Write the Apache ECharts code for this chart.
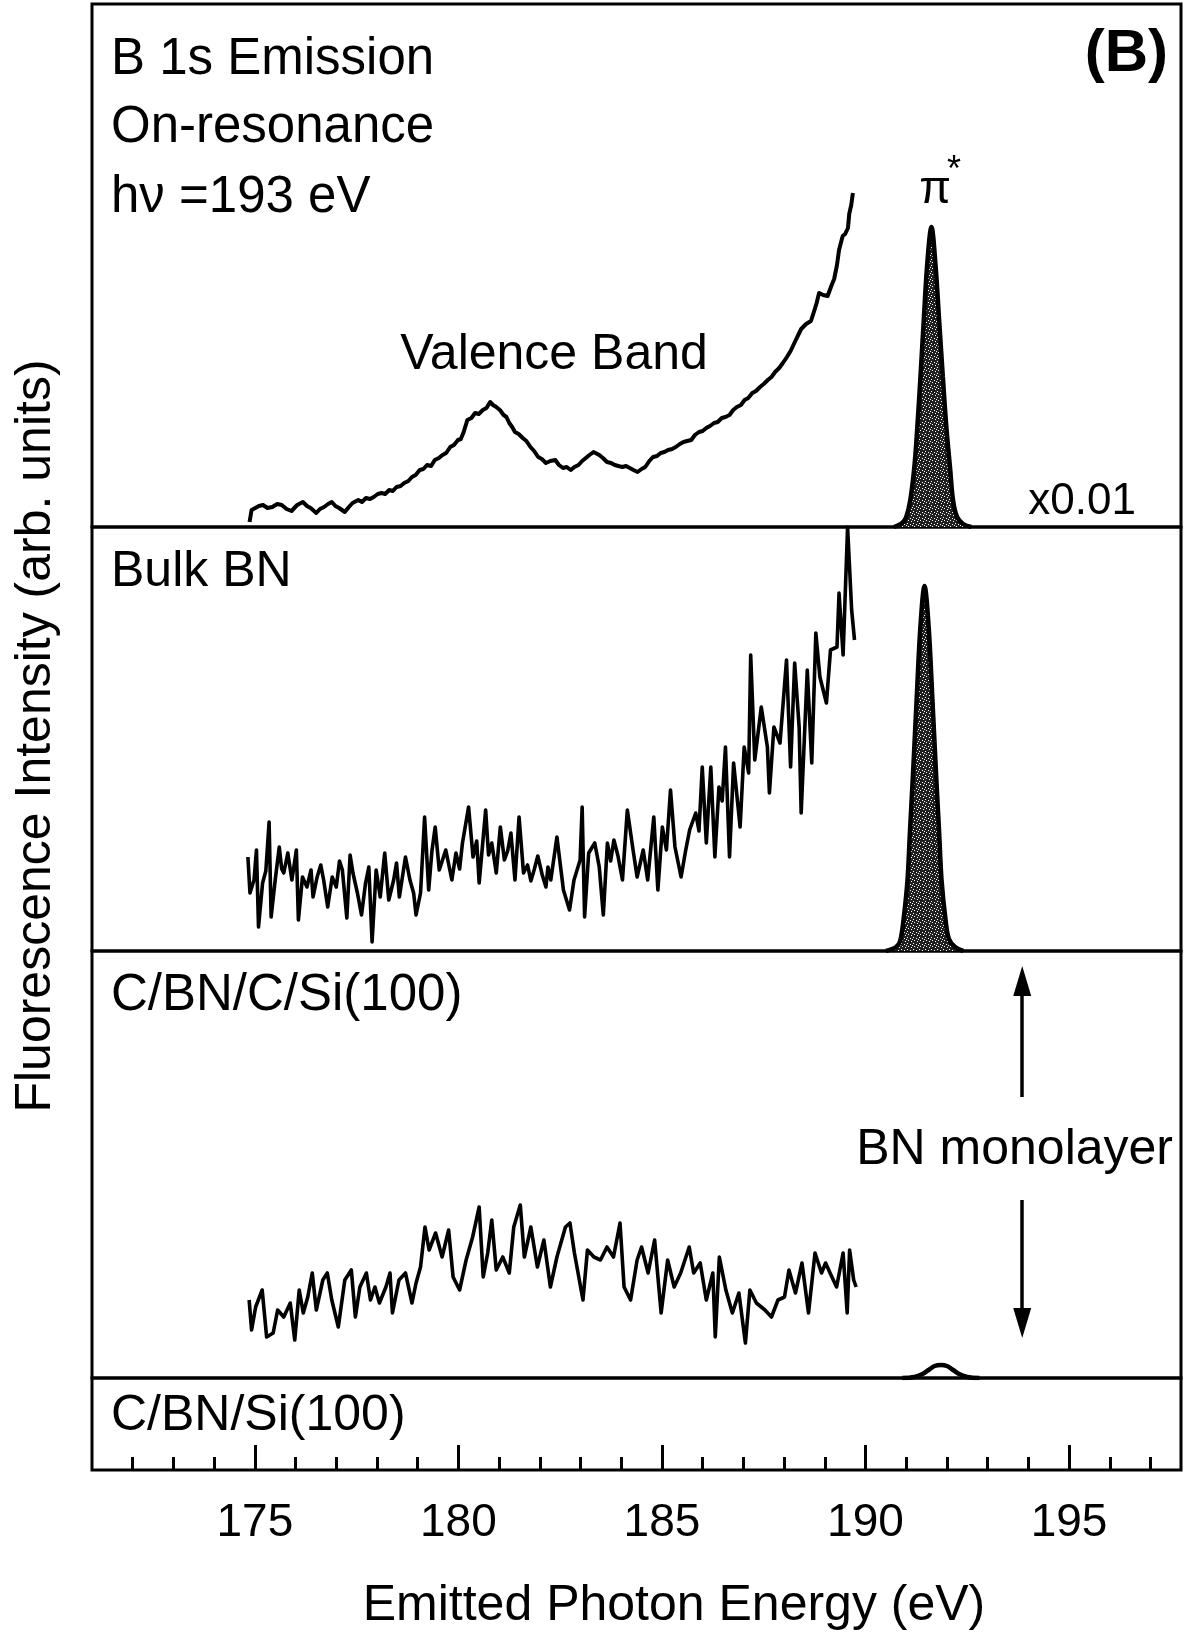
<!DOCTYPE html>
<html><head><meta charset="utf-8">
<script src="https://cdn.jsdelivr.net/npm/echarts@6/dist/echarts.min.js"></script>
<style>html,body{margin:0;padding:0;background:#fff}#c{width:1187px;height:1634px}</style>
</head><body><div id="c"></div>
<script>
// ---- axis ticks ----
const xTickLabels = [175, 180, 185, 190, 195];
const xMinorTicks = [172,173,174,175,176,177,178,179,180,181,182,183,184,185,186,187,188,189,190,191,192,193,194,195,196,197];

// ---- top panel: B 1s emission, on-resonance (valence band part) [eV, intensity] ----
const valenceBand = [
[174.87,5],[174.92,17],[175.01,19],[175.10,21],[175.20,22],[175.31,19],[175.43,20],[175.55,23],[175.66,22],[175.78,18],[175.90,16],[176.04,22],
[176.18,25],[176.28,21],[176.37,19],[176.51,14],[176.60,18],[176.70,20],[176.80,23],[176.89,25],[176.98,21],[177.07,19],[177.21,15],[177.31,20],[177.40,24],
[177.54,27],[177.63,25],[177.73,29],[177.83,28],[177.92,30],[178.02,33],[178.11,34],[178.20,33],[178.30,37],[178.39,36],[178.48,40],[178.58,41],[178.67,44],[178.77,46],[178.86,50],
[178.95,52],[179.05,57],[179.14,58],[179.23,62],[179.33,61],[179.42,67],[179.52,69],[179.61,72],[179.70,74],[179.80,80],[179.89,82],[179.99,87],[180.06,88],[180.13,95],[180.22,107],
[180.32,109],[180.41,114],[180.50,113],[180.60,117],[180.69,119],[180.78,125],[180.85,122],[180.93,120],[181.02,117],[181.11,112],[181.18,110],[181.25,104],[181.32,100],[181.39,95],[181.48,93],[181.58,89],
[181.67,86],[181.77,80],[181.86,76],[181.96,70],[182.05,68],[182.15,64],[182.26,66],[182.38,67],[182.47,62],[182.57,59],[182.66,60],[182.76,57],[182.85,60],[182.95,62],[183.04,66],[183.13,69],
[183.22,72],[183.32,75],[183.46,72],[183.55,69],[183.65,65],[183.75,64],[183.84,62],[183.93,61],[184.03,60],[184.12,61],[184.21,59],[184.30,57],[184.40,55],[184.50,58],[184.59,60],
[184.69,66],[184.78,70],[184.88,71],[184.97,74],[185.06,75],[185.15,77],[185.25,78],[185.34,80],[185.44,83],[185.53,85],[185.62,86],[185.72,87],[185.81,92],[185.91,95],[186.00,96],[186.09,99],
[186.18,101],[186.28,104],[186.37,105],[186.47,109],[186.56,110],[186.66,112],[186.75,117],[186.84,120],[186.94,122],[187.03,127],[187.12,129],[187.22,134],[187.31,136],[187.41,140],[187.50,143],[187.60,147],
[187.69,150],[187.78,155],[187.88,159],[187.97,164],[188.07,170],[188.16,176],[188.23,182],[188.30,188],[188.36,193],[188.42,198],[188.54,203],[188.66,206],[188.74,216],[188.80,224],[188.86,234],
[188.96,232],[189.07,231],[189.16,241],[189.23,248],[189.30,262],[189.35,277],[189.44,291],[189.50,293],[189.57,299],[189.60,313],[189.65,322],[189.69,334]
];
// pi* peak, top panel (shown x0.01)
const piStarOnRes = [
[190.70,0],[190.90,4],[191.00,10],[191.10,27],[191.20,60],[191.27,98],[191.35,150],[191.43,206],
[191.52,265],[191.62,300],[191.72,262],[191.81,206],[191.90,150],[191.99,98],[192.08,58],[192.15,27],
[192.25,10],[192.40,3],[192.60,0]
];

// ---- Bulk BN ----
const bulkBN = [
[174.83,94],[174.88,58],[174.98,71],[175.04,101],[175.09,24],[175.19,68],[175.27,80],[175.35,129],[175.40,34],
[175.50,71],[175.60,104],[175.66,82],[175.71,78],[175.81,98],[175.91,71],[176.02,101],[176.07,31],[176.17,74],
[176.28,64],[176.38,81],[176.43,54],[176.53,74],[176.62,86],[176.69,71],[176.79,44],[176.90,74],[177.00,64],
[177.08,90],[177.15,81],[177.26,33],[177.34,96],[177.41,78],[177.52,58],[177.62,36],[177.72,68],[177.80,84],[177.88,9],[177.98,81],
[178.08,54],[178.19,98],[178.29,51],[178.41,71],[178.48,88],[178.55,54],[178.70,94],[178.81,71],[178.90,58],[178.96,36],
[179.07,58],[179.17,134],[179.27,61],[179.35,100],[179.43,124],[179.53,81],[179.69,101],[179.84,71],[179.94,98],
[180.03,82],[180.10,108],[180.25,144],[180.36,94],[180.45,110],[180.51,68],[180.67,141],[180.74,96],[180.82,108],[180.93,78],[181.03,124],
[181.13,91],[181.21,100],[181.29,118],[181.39,71],[181.49,134],[181.60,78],[181.70,86],[181.78,70],[181.86,81],[181.95,95],[182.06,76],[182.15,64],[182.20,84],[182.27,71],
[182.42,114],[182.58,61],[182.73,41],[182.84,71],[182.99,91],[183.04,144],[183.10,34],[183.20,98],
[183.35,108],[183.46,84],[183.56,36],[183.66,108],[183.74,90],[183.82,111],[183.92,95],[184.03,71],[184.15,141],[184.28,104],
[184.39,74],[184.54,101],[184.65,71],[184.80,134],[184.90,61],[185.01,124],[185.11,101],[185.21,161],
[185.32,104],[185.47,74],[185.58,100],[185.68,121],[185.83,138],[185.91,120],[185.99,184],[186.09,108],[186.20,184],[186.30,94],
[186.40,164],[186.48,150],[186.56,204],[186.66,94],[186.76,188],[186.92,124],[187.02,204],[187.13,178],[187.18,296],
[187.28,191],[187.44,244],[187.59,204],[187.64,158],[187.75,224],[187.90,208],[188.06,291],[188.16,184],
[188.26,288],[188.37,224],[188.42,138],[188.57,281],[188.68,188],[188.78,318],[188.88,274],[189.04,248],
[189.14,301],[189.30,304],[189.35,358],[189.45,296],[189.56,424],[189.66,341],[189.73,311]
];
const piStarBulk = [
[190.50,0],[190.75,4],[190.85,10],[190.93,30],[191.03,70],[191.09,118],[191.17,180],[191.26,255],
[191.35,325],[191.45,365],[191.55,325],[191.64,255],[191.73,180],[191.81,118],[191.87,70],[191.97,30],
[192.05,12],[192.20,4],[192.40,0]
];

// ---- C/BN/C/Si(100) ----
const cbncSi = [
[174.86,78],[174.92,48],[175.02,71],[175.18,88],[175.29,41],[175.45,45],[175.56,68],[175.71,61],
[175.87,75],[175.98,38],[176.09,88],[176.19,65],[176.30,81],[176.41,105],[176.51,68],[176.67,98],
[176.78,105],[176.89,78],[177.05,51],[177.21,98],[177.37,108],[177.47,61],[177.58,91],[177.74,105],
[177.84,78],[177.95,91],[178.06,75],[178.22,91],[178.32,105],[178.38,65],[178.54,98],[178.70,105],
[178.86,75],[178.96,95],[179.07,111],[179.18,151],[179.28,128],[179.44,145],[179.60,121],[179.76,148],
[179.87,101],[180.03,88],[180.19,118],[180.35,141],[180.51,171],[180.61,101],[180.72,125],[180.82,158],
[180.93,108],[181.09,121],[181.25,105],[181.36,151],[181.52,173],[181.62,121],[181.78,151],[181.94,111],
[182.10,138],[182.26,91],[182.42,121],[182.63,151],[182.74,155],[182.85,125],[183.06,78],[183.17,128],
[183.33,121],[183.49,118],[183.65,131],[183.81,121],[183.97,155],[184.07,91],[184.23,78],[184.39,118],
[184.50,131],[184.66,105],[184.82,138],[184.98,65],[185.14,118],[185.30,91],[185.46,105],[185.67,131],
[185.78,105],[185.94,115],[186.09,78],[186.25,105],[186.31,41],[186.41,121],[186.57,88],[186.73,65],
[186.89,85],[187.05,35],[187.16,88],[187.32,75],[187.53,68],[187.69,61],[187.85,78],[188.01,81],
[188.12,108],[188.28,85],[188.44,115],[188.60,65],[188.76,125],[188.92,105],[189.02,115],[189.13,105],
[189.29,91],[189.45,125],[189.55,65],[189.61,128],[189.71,98],[189.77,91]
];
const piStarCBNC = [
[190.90,0],[191.20,1],[191.40,4],[191.55,8],[191.70,12],[191.85,13],[192.00,12],[192.15,8],
[192.30,4],[192.50,1],[192.80,0]
];

// ---- "BN monolayer" arrows in panel 3 ----
const monolayerArrowX = 193.85;
const arrowShafts = [[281, 395], [178, 57]];   // [tail, end of shaft]
const arrowHeads = [[193.85, 397, 0], [193.85, 55, 180]]; // [eV, centre, rotation]

const panelHeights = [523, 424, 427, 92];
const xMin = 171, xMax = 197.75;

const FONT = '"Liberation Sans", Arial, Helvetica, sans-serif';

function stipple() {
  const c = document.createElement('canvas');
  c.width = 6; c.height = 6;
  const g = c.getContext('2d');
  g.fillStyle = '#202020'; g.fillRect(0, 0, 6, 6);
  g.fillStyle = '#ffffff';
  [[1,1],[4,2],[2,4],[5,5],[0,3]].forEach(p => g.fillRect(p[0], p[1], 1, 1));
  return c;
}
const pat = { image: stipple(), repeat: 'repeat' };

const tops = [4, 527, 951, 1378];
const grids = tops.map((t, i) => ({
  left: 92, width: 1089, top: t, height: panelHeights[i],
  show: true, borderColor: '#000', borderWidth: 3, backgroundColor: 'transparent'
}));

const xAxes = [0,1,2].map(i => ({
  type: 'value', gridIndex: i, min: xMin, max: xMax, show: false
}));
xAxes.push({
  type: 'value', gridIndex: 3, min: xMin, max: xMax, position: 'bottom',
  axisLine: { show: false }, splitLine: { show: false },
  axisTick: { show: true, inside: true, length: 25, customValues: xTickLabels, lineStyle: { color: '#000', width: 3 } },
  axisLabel: { show: true, customValues: xTickLabels, color: '#000', fontSize: 46, fontFamily: FONT, margin: 30 }
});
xAxes.push({
  type: 'value', gridIndex: 3, min: xMin, max: xMax, position: 'bottom',
  axisLine: { show: false }, splitLine: { show: false },
  axisTick: { show: true, inside: true, length: 13, customValues: xMinorTicks, lineStyle: { color: '#000', width: 3 } },
  axisLabel: { show: false }
});
const yAxes = [0,1,2,3].map(i => ({
  type: 'value', gridIndex: i, min: 0, max: panelHeights[i], show: false
}));

function noisy(data, i, w) {
  return { type: 'line', xAxisIndex: i, yAxisIndex: i, data: data, symbol: 'none',
    lineStyle: { color: '#000', width: w || 2.5, join: 'round', opacity: 1 }, clip: true, z: 3 };
}
function peak(data, i, fill) {
  const s = { type: 'line', xAxisIndex: i, yAxisIndex: i, data: data, symbol: 'none', smooth: 0.35,
    lineStyle: { color: '#000', width: 4.5 }, z: 4 };
  if (fill) s.areaStyle = { color: pat, opacity: 1, origin: 'start' };
  return s;
}

const mono = noisy(cbncSi, 2, 3.6);
mono.markLine = {
  silent: true, animation: false, symbol: ['none', 'none'],
  label: { show: false }, lineStyle: { color: '#000', width: 3.5, type: 'solid', opacity: 1 },
  data: arrowShafts.map(s => [{ coord: [monolayerArrowX, s[0]] }, { coord: [monolayerArrowX, s[1]] }])
};

function txt(text, x, y, opt) {
  opt = opt || {};
  return { type: 'text', x: x, y: y, rotation: opt.rot || 0, z: 10,
    style: { text: text, fill: '#000', fontSize: opt.size || 50, fontFamily: FONT,
      fontWeight: opt.bold ? 'bold' : 'normal',
      textAlign: opt.align || 'left', textVerticalAlign: 'middle' } };
}

const option = {
  animation: false,
  backgroundColor: '#fff',
  grid: grids,
  xAxis: xAxes,
  yAxis: yAxes,
  series: [
    noisy(valenceBand, 0, 4),
    peak(piStarOnRes, 0, true),
    noisy(bulkBN, 1, 3.6),
    peak(piStarBulk, 1, true),
    mono,
    peak(piStarCBNC, 2, false),
    { type: 'scatter', xAxisIndex: 2, yAxisIndex: 2, silent: true, z: 5,
      data: arrowHeads.map(a => ({ value: [a[0], a[1]], symbolRotate: a[2] })),
      symbol: 'triangle', symbolSize: [18, 30], itemStyle: { color: '#000', opacity: 1 } },
    { type: 'line', xAxisIndex: 3, yAxisIndex: 3, data: [] }
  ],
  graphic: [
    txt('B 1s Emission', 111, 60, { size: 51 }),
    txt('On-resonance', 111, 128, { size: 51 }),
    txt('hν =193 eV', 111, 198, { size: 51 }),
    txt('(B)', 1168, 54, { align: 'right', bold: true, size: 60 }),
    txt('π', 935, 190, { align: 'center', size: 46 }),
    txt('*', 954, 171, { align: 'center', size: 36 }),
    txt('Valence Band', 554, 355, { align: 'center' }),
    txt('x0.01', 1136, 502, { align: 'right', size: 44 }),
    txt('Bulk BN', 111, 572),
    txt('C/BN/C/Si(100)', 111, 996, { size: 51 }),
    txt('BN monolayer', 1173, 1150, { align: 'right' }),
    txt('C/BN/Si(100)', 111, 1416),
    txt('Emitted Photon Energy (eV)', 674, 1606, { align: 'center', size: 50 }),
    txt('Fluorescence Intensity (arb. units)', 36, 736, { align: 'center', size: 50, rot: Math.PI / 2 })
  ]
};
const chart = echarts.init(document.getElementById('c'), null, { renderer: 'canvas' });
chart.setOption(option);
</script></body></html>
